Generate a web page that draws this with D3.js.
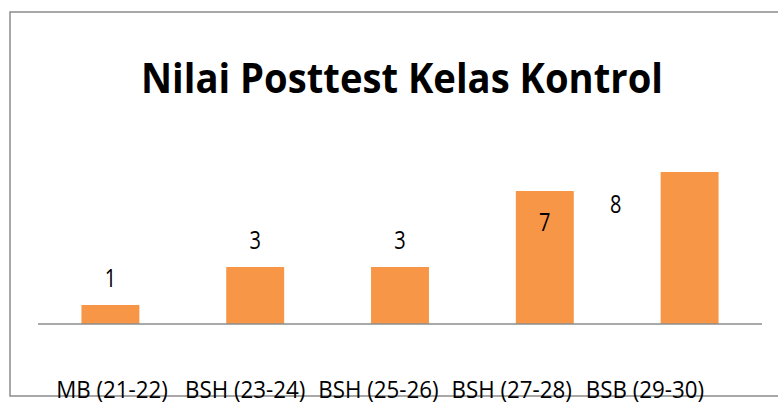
<!DOCTYPE html>
<html>
<head>
<meta charset="utf-8">
<script src="https://cdn.jsdelivr.net/npm/d3@7"></script>
<style>
  body { margin: 0; background: #fff; }
  svg { display: block; }
  text { font-family: "Open Sans", sans-serif; fill: #000; }
</style>
</head>
<body>
<script>
const categories = ["MB (21-22)", "BSH (23-24)", "BSH (25-26)", "BSH (27-28)", "BSB (29-30)"]
const values = [1, 3, 3, 7, 8]
const chartTitle = "Nilai Posttest Kelas Kontrol"

const width = 778
const height = 405
const baseY = 324

let svg = d3.select("body").append("svg")
    .attr("width", width)
    .attr("height", height)

// frame (only top, left and bottom edges are visible)
svg.append("path")
    .attr("d", `M${width},12 H10 V396 H${width}`)
    .attr("fill", "none")
    .attr("stroke", "#8c8c8c")
    .attr("stroke-width", 1.5)

let x = d3.scaleBand().domain(categories).range([38, 762]).paddingInner(0.6).paddingOuter(0.3)
let y = d3.scaleLinear().domain([0, 8]).range([baseY, 172])
// the category labels in the source are packed tighter than the bars
let xLabel = d3.scalePoint().domain(categories).range([112, 645])

// title
svg.append("text")
    .attr("x", 402)
    .attr("y", 93)
    .attr("text-anchor", "middle")
    .style("font-size", "41px")
    .style("font-weight", "bold")
    .attr("textLength", 522)
    .attr("lengthAdjust", "spacingAndGlyphs")
    .text(chartTitle)

// bars
svg.selectAll("rect.bar")
    .data(values).enter()
    .append("rect")
        .attr("class", "bar")
        .attr("x", (d, i) => x(categories[i]))
        .attr("y", d => y(d))
        .attr("width", x.bandwidth())
        .attr("height", d => y(0) - y(d))
        .attr("fill", "#f79646")

// axis line
svg.append("line")
    .attr("x1", 38).attr("x2", 762)
    .attr("y1", baseY).attr("y2", baseY)
    .attr("stroke", "#8c8c8c")
    .attr("stroke-width", 1.5)

// data labels: the tall ones sit inside / beside the bar like in the source
const labelNudge = [[0, -18], [0, -18], [0, -18], [0, 40], [-74, 41]]
svg.selectAll("text.val")
    .data(values).enter()
    .append("text")
        .attr("class", "val")
        .attr("x", (d, i) => x(categories[i]) + x.bandwidth() / 2 + labelNudge[i][0])
        .attr("y", (d, i) => y(d) + labelNudge[i][1])
        .attr("text-anchor", "middle")
        .style("font-size", "25px")
        .text(d => d)
        .each(function () {
            d3.select(this).attr("textLength", this.getComputedTextLength() * 0.8).attr("lengthAdjust", "spacingAndGlyphs")
        })

// category labels
svg.selectAll("text.cat")
    .data(categories).enter()
    .append("text")
        .attr("class", "cat")
        .attr("x", d => xLabel(d))
        .attr("y", 398)
        .attr("text-anchor", "middle")
        .style("font-size", "24px")
        .text(d => d)
        .each(function () {
            d3.select(this).attr("textLength", this.getComputedTextLength() * 0.93).attr("lengthAdjust", "spacingAndGlyphs")
        })
</script>
</body>
</html>
